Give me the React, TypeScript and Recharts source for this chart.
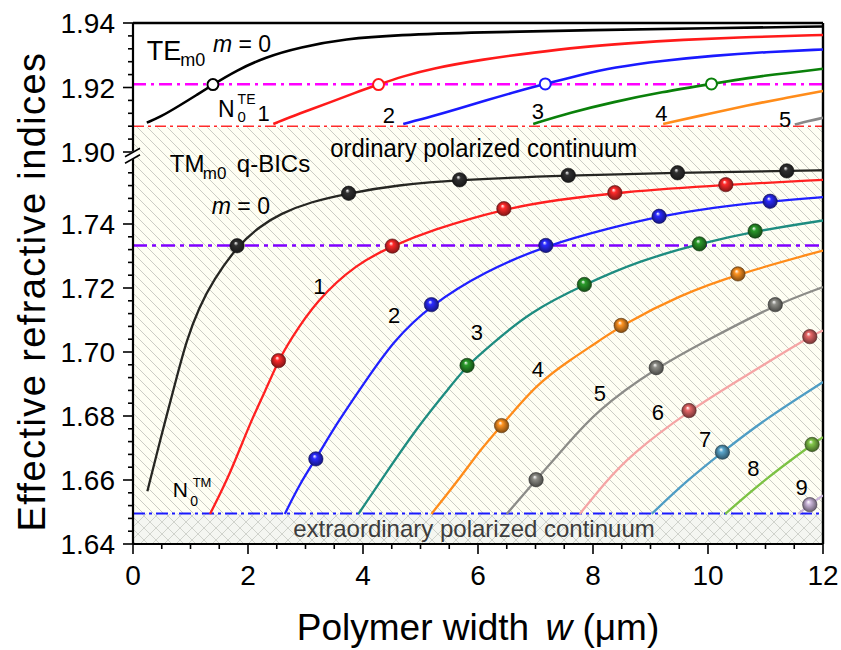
import React from 'react';
import {
  ComposedChart,
  Line,
  XAxis,
  YAxis,
  ReferenceLine,
  ReferenceArea,
  ReferenceDot,
  Label,
} from 'recharts';

const FONT = "'Liberation Sans', Arial, Helvetica, sans-serif";

// ---------- broken y axis (lower 1.64–1.76, upper 1.90–1.94) ----------
const LOW_MIN = 1.64;
const UP_MAX = 1.94;
const LOW_SCALE = 3200;
const UP_SCALE = 3225;
const PLOT_H = 521;
const SPLIT = 1.83;
const BREAK_V = 1.7615;
const t = (v: number) => (v < SPLIT ? (v - LOW_MIN) * LOW_SCALE : PLOT_H - (UP_MAX - v) * UP_SCALE);

// ---------- ticks ----------
const X_MAJOR = [0, 2, 4, 6, 8, 10, 12];
const X_MINOR = [0.5, 1, 1.5, 2.5, 3, 3.5, 4.5, 5, 5.5, 6.5, 7, 7.5, 8.5, 9, 9.5, 10.5, 11, 11.5];
const Y_MAJOR = [1.64, 1.66, 1.68, 1.7, 1.72, 1.74, 1.9, 1.92, 1.94];
const Y_MINOR = [
  1.644, 1.648, 1.652, 1.656, 1.664, 1.668, 1.672, 1.676, 1.684, 1.688, 1.692, 1.696,
  1.704, 1.708, 1.712, 1.716, 1.724, 1.728, 1.732, 1.736, 1.744, 1.748, 1.752, 1.756,
  1.904, 1.908, 1.912, 1.916, 1.924, 1.928, 1.932, 1.936,
];

// ---------- reference levels ----------
const N0_TE = 1.908;
const TE_CROSS = 1.921;
const TM_CROSS = 1.7333;
const N0_TM = 1.6495;

// ---------- TE modes (upper panel) ----------
const teW0 = [0.24, 0.47, 0.8, 1.1, 1.39, 1.8, 2.3, 2.9, 3.7, 4.6, 6.0, 8.0, 10.0, 12.0];
const teN0 = [1.9091, 1.9108, 1.9143, 1.9176, 1.9209, 1.9253, 1.9294, 1.9325, 1.9351, 1.9363, 1.9371, 1.9378, 1.9384, 1.9389];
const teW1 = [2.44, 2.9, 3.43, 3.85, 4.27, 4.7, 5.17, 6.1, 7.0, 7.77, 8.6, 9.51, 10.8, 12];
const teN1 = [1.9087, 1.912, 1.9154, 1.9183, 1.9209, 1.9235, 1.9258, 1.9288, 1.9309, 1.9325, 1.9337, 1.9348, 1.9357, 1.9363];
const teW2 = [4.7, 5.2, 5.7, 6.1, 6.7, 7.17, 7.8, 8.35, 9.2, 10.09, 11.0, 12];
const teN2 = [1.9087, 1.911, 1.9136, 1.9158, 1.9189, 1.9211, 1.924, 1.9262, 1.9283, 1.9299, 1.931, 1.9318];
const teW3 = [6.96, 7.6, 8.35, 9.2, 10.06, 10.96, 12];
const teN3 = [1.9087, 1.9122, 1.9155, 1.9186, 1.9211, 1.9237, 1.9258];
const teW4 = [9.22, 10.0, 10.67, 11.3, 12];
const teN4 = [1.9087, 1.9118, 1.9144, 1.9166, 1.9189];
const teW5 = [11.51, 11.75, 12];
const teN5 = [1.9085, 1.9096, 1.9106];
const teCrossW = [1.39, 4.27, 7.17, 10.06];
const teCrossN = [1.9209, 1.9209, 1.9211, 1.9211];

// ---------- TM modes (lower panel) ----------
const tmW0 = [0.25, 0.47, 0.76, 0.93, 1.15, 1.4, 1.81, 2.2, 2.56, 3.1, 3.75, 4.59, 5.68, 7.57, 9.47, 11.37, 12];
const tmN0 = [1.6565, 1.6723, 1.6921, 1.7036, 1.714, 1.7225, 1.733, 1.7392, 1.7432, 1.747, 1.7496, 1.7522, 1.7538, 1.7552, 1.756, 1.7566, 1.7568];
const tmW1 = [1.34, 1.69, 2.03, 2.3, 2.53, 2.73, 3.19, 3.89, 4.51, 5.17, 6.45, 7.4, 8.38, 10.31, 12];
const tmN1 = [1.6494, 1.6619, 1.6776, 1.6878, 1.6973, 1.7036, 1.7161, 1.7276, 1.7331, 1.738, 1.7448, 1.7476, 1.7498, 1.7523, 1.7538];
const tmW2 = [2.64, 2.9, 3.18, 3.54, 4.01, 4.53, 5.19, 6.1, 7.18, 8.35, 9.15, 10.09, 11.08, 12];
const tmN2 = [1.6494, 1.6588, 1.6666, 1.6776, 1.69, 1.7036, 1.7148, 1.725, 1.7333, 1.739, 1.7424, 1.7452, 1.7471, 1.7484];
const tmW3 = [3.92, 4.35, 4.99, 5.51, 5.81, 6.21, 6.9, 7.85, 8.82, 9.85, 10.82, 12];
const tmN3 = [1.6494, 1.6609, 1.6776, 1.689, 1.6958, 1.702, 1.7125, 1.7211, 1.7286, 1.7338, 1.7378, 1.7411];
const tmW4 = [5.19, 5.74, 6.03, 6.41, 7.02, 7.6, 8.12, 8.49, 9.51, 10.52, 12];
const tmN4 = [1.6494, 1.6619, 1.6692, 1.677, 1.69, 1.6975, 1.7036, 1.7083, 1.7178, 1.7244, 1.7317];
const tmW5 = [6.5, 7.01, 7.5, 8.06, 9.1, 9.98, 11.17, 12];
const tmN5 = [1.6494, 1.6601, 1.67, 1.6817, 1.6951, 1.7036, 1.7148, 1.7203];
const tmW6 = [7.77, 8.2, 8.64, 9.67, 10.67, 11.77, 12];
const tmN6 = [1.6494, 1.659, 1.6677, 1.6817, 1.6927, 1.7048, 1.7067];
const tmW7 = [9.02, 9.63, 10.25, 10.96, 12];
const tmN7 = [1.6494, 1.6598, 1.6687, 1.6786, 1.6906];
const tmW8 = [10.3, 10.96, 11.81, 12];
const tmN8 = [1.6494, 1.6598, 1.6711, 1.6734];
const tmW9 = [11.57, 11.77, 12];
const tmN9 = [1.6494, 1.6523, 1.6552];

// q-BIC markers
const mkW0 = [1.81, 3.75, 5.68, 7.57, 9.47, 11.37];
const mkN0 = [1.7332, 1.7496, 1.7538, 1.7552, 1.756, 1.7566];
const mkW1 = [2.53, 4.51, 6.45, 8.38, 10.31];
const mkN1 = [1.6973, 1.7331, 1.7448, 1.7498, 1.7523];
const mkW2 = [3.18, 5.19, 7.18, 9.15, 11.08];
const mkN2 = [1.6666, 1.7148, 1.7333, 1.7424, 1.7471];
const mkW3 = [5.81, 7.85, 9.85, 10.82];
const mkN3 = [1.6958, 1.7211, 1.7338, 1.7378];
const mkW4 = [6.41, 8.49, 10.52];
const mkN4 = [1.677, 1.7083, 1.7244];
const mkW5 = [7.01, 9.1, 11.17];
const mkN5 = [1.6601, 1.6951, 1.7148];
const mkW6 = [9.67, 11.77];
const mkN6 = [1.6817, 1.7048];
const mkW7 = [10.25];
const mkN7 = [1.6687];
const mkW8 = [11.81];
const mkN8 = [1.6711];
const mkW9 = [11.77];
const mkN9 = [1.6523];

// ---------- text labels ----------
const TE_NUM_TEXT = ['1', '2', '3', '4', '5'];
const TE_NUM_W = [2.27, 4.45, 7.04, 9.19, 11.34];
const TE_NUM_N = [1.9095, 1.9089, 1.9103, 1.9095, 1.9077];
const TM_NUM_TEXT = ['1', '2', '3', '4', '5', '6', '7', '8', '9'];
const TM_NUM_W = [3.24, 4.54, 5.98, 7.04, 8.12, 9.13, 9.95, 10.79, 11.63];
const TM_NUM_N = [1.7182, 1.709, 1.7036, 1.6923, 1.6848, 1.6786, 1.6702, 1.6614, 1.6552];
const ORD_TEXT = 'ordinary polarized continuum';
const EXT_TEXT = 'extraordinary polarized continuum';
const X_TITLE = 'Polymer width ';
const Y_TITLE = 'Effective refractive indices';

type Pt = { w: number; y: number };
const toPts = (ws: number[], ns: number[]): Pt[] => ws.map((w, i) => ({ w, y: t(ns[i]) }));

const shade = (hex: string, f: number) => {
  const n = parseInt(hex.slice(1), 16);
  const r = Math.round(((n >> 16) & 255) * f);
  const g = Math.round(((n >> 8) & 255) * f);
  const b = Math.round((n & 255) * f);
  return `rgb(${r},${g},${b})`;
};

const TE_SERIES = [
  { id: 'te0', w: teW0, n: teN0, color: '#000000' },
  { id: 'te1', w: teW1, n: teN1, color: '#ff1a1a' },
  { id: 'te2', w: teW2, n: teN2, color: '#1a1aff' },
  { id: 'te3', w: teW3, n: teN3, color: '#0a800a' },
  { id: 'te4', w: teW4, n: teN4, color: '#ff8c1a' },
  { id: 'te5', w: teW5, n: teN5, color: '#888888' },
];
const TE_CROSS_COLORS = ['#000000', '#ff1a1a', '#1a1aff', '#0a800a'];

const TM_SERIES = [
  { id: 'tm0', w: tmW0, n: tmN0, color: '#262622', mw: mkW0, mn: mkN0, mc: '#303030' },
  { id: 'tm1', w: tmW1, n: tmN1, color: '#ff2020', mw: mkW1, mn: mkN1, mc: '#ff2a2a' },
  { id: 'tm2', w: tmW2, n: tmN2, color: '#2020ff', mw: mkW2, mn: mkN2, mc: '#2a2aff' },
  { id: 'tm3', w: tmW3, n: tmN3, color: '#1e8c80', mw: mkW3, mn: mkN3, mc: '#2a9a2a' },
  { id: 'tm4', w: tmW4, n: tmN4, color: '#ff8c1a', mw: mkW4, mn: mkN4, mc: '#ff9422' },
  { id: 'tm5', w: tmW5, n: tmN5, color: '#8c8c88', mw: mkW5, mn: mkN5, mc: '#8e8e88' },
  { id: 'tm6', w: tmW6, n: tmN6, color: '#f5a5a5', mw: mkW6, mn: mkN6, mc: '#e86868' },
  { id: 'tm7', w: tmW7, n: tmN7, color: '#4f9dc4', mw: mkW7, mn: mkN7, mc: '#5aa6cc' },
  { id: 'tm8', w: tmW8, n: tmN8, color: '#7cc244', mw: mkW8, mn: mkN8, mc: '#82c64a' },
  { id: 'tm9', w: tmW9, n: tmN9, color: '#c9b4d9', mw: mkW9, mn: mkN9, mc: '#cdb9dc' },
];

// ---------- tick renderers ----------
const key = (d: number) => d.toFixed(1);
const yInfo = new Map<string, { kind: string; label?: string }>();
Y_MAJOR.forEach((v) => yInfo.set(key(t(v)), { kind: 'major', label: v.toFixed(2) }));
Y_MINOR.forEach((v) => yInfo.set(key(t(v)), { kind: 'minor' }));
yInfo.set(key(t(BREAK_V)), { kind: 'break' });
const Y_TICKS = [...Y_MAJOR, ...Y_MINOR, BREAK_V].map(t);
const X_TICKS = [...X_MAJOR, ...X_MINOR].sort((a, b) => a - b);

const YTick = (props: any) => {
  const { x, y, payload } = props;
  const info = yInfo.get(key(payload.value)) || { kind: 'minor' };
  if (info.kind === 'break') {
    return (
      <g>
        <polygon points={`${x - 3},${y + 6} ${x + 3},${y + 2} ${x + 3},${y - 6} ${x - 3},${y - 2}`} fill="#fff" />
        <line x1={x - 8} y1={y + 1.5} x2={x + 7} y2={y - 7} stroke="#000" strokeWidth={1.6} />
        <line x1={x - 8} y1={y + 8} x2={x + 7} y2={y - 0.5} stroke="#000" strokeWidth={1.6} />
      </g>
    );
  }
  const len = info.kind === 'major' ? 10 : 5;
  return (
    <g>
      <line x1={x} x2={x - len} y1={y} y2={y} stroke="#000" strokeWidth={1.6} />
      {info.kind === 'major' && (
        <text x={x - 18} y={y} dy={10} textAnchor="end" fontSize={28} fontFamily={FONT} fill="#000">
          {info.label}
        </text>
      )}
    </g>
  );
};

const XTick = (props: any) => {
  const { x, y, payload } = props;
  const v = payload.value;
  const major = X_MAJOR.includes(v);
  return (
    <g>
      <line x1={x} x2={x} y1={y} y2={y + (major ? 10 : 5)} stroke="#000" strokeWidth={1.6} />
      {major && (
        <text x={x} y={y + 41} textAnchor="middle" fontSize={28} fontFamily={FONT} fill="#000">
          {v}
        </text>
      )}
    </g>
  );
};

// ---------- annotation renderers ----------
const txt = (extra: any) => ({ fontFamily: FONT, fill: '#000', ...extra });

const teTitle = (p: any) => (
  <g>
    <text x={p.cx} y={p.cy} {...txt({ fontSize: 27 })}>TE</text>
    <text x={p.cx + 33.5} y={p.cy + 6} {...txt({ fontSize: 18 })}>m0</text>
  </g>
);
const mZero = (p: any) => (
  <text x={p.cx} y={p.cy} {...txt({ fontSize: 23 })}>
    <tspan fontStyle="italic">m</tspan> = 0
  </text>
);
const nTE = (p: any) => (
  <g>
    <text x={p.cx} y={p.cy} {...txt({ fontSize: 23 })}>N</text>
    <text x={p.cx + 19.5} y={p.cy + 5} {...txt({ fontSize: 15 })}>0</text>
    <text x={p.cx + 19.5} y={p.cy - 13.4} {...txt({ fontSize: 14 })}>TE</text>
  </g>
);
const nTM = (p: any) => (
  <g>
    <text x={p.cx} y={p.cy} {...txt({ fontSize: 21 })}>N</text>
    <text x={p.cx + 17.5} y={p.cy + 8.3} {...txt({ fontSize: 14 })}>0</text>
    <text x={p.cx + 20} y={p.cy - 10} {...txt({ fontSize: 13 })}>TM</text>
  </g>
);
const tmTitle = (p: any) => (
  <g>
    <text x={p.cx} y={p.cy} {...txt({ fontSize: 24 })}>TM</text>
    <text x={p.cx + 33} y={p.cy + 7} {...txt({ fontSize: 17 })}>m0</text>
    <text x={p.cx + 67} y={p.cy} {...txt({ fontSize: 24 })}>q-BICs</text>
  </g>
);
const ordText = (p: any) => (
  <text transform={`translate(${p.cx},${p.cy}) scale(0.92,1)`} x={0} y={0} textAnchor="middle" {...txt({ fontSize: 26 })}>
    {ORD_TEXT}
  </text>
);
const extText = (p: any) => (
  <text x={p.cx} y={p.cy} textAnchor="middle" {...txt({ fontSize: 24, fill: '#3c3c3c' })}>
    {EXT_TEXT}
  </text>
);
const numText = (s: string) => (p: any) => (
  <text x={p.cx} y={p.cy} textAnchor="middle" {...txt({ fontSize: 22 })}>
    {s}
  </text>
);

const ANN: { w: number; v: number; shape: (p: any) => any }[] = [
  { w: 0.24, v: 1.9284, shape: teTitle },
  { w: 1.39, v: 1.9309, shape: mZero },
  { w: 1.48, v: 1.9108, shape: nTE },
  { w: 6.1, v: 1.8986, shape: ordText },
  { w: 0.64, v: 1.7562, shape: tmTitle },
  { w: 1.37, v: 1.743, shape: mZero },
  { w: 0.69, v: 1.6546, shape: nTM },
  { w: 5.93, v: 1.6421, shape: extText },
  ...TE_NUM_TEXT.map((s, i) => ({ w: TE_NUM_W[i], v: TE_NUM_N[i], shape: numText(s) })),
  ...TM_NUM_TEXT.map((s, i) => ({ w: TM_NUM_W[i], v: TM_NUM_N[i], shape: numText(s) })),
];

const sphereDot = (gid: string, edge: string) => (p: any) =>
  p.cx == null ? (
    <g key={`${gid}-e-${p.index}`} />
  ) : (
    <circle key={`${gid}-${p.index}`} cx={p.cx} cy={p.cy} r={7.2} fill={`url(#${gid})`} stroke={edge} strokeWidth={0.6} />
  );

const openDot = (color: string, id: string) => (p: any) =>
  p.cx == null ? (
    <g key={`${id}-e`} />
  ) : (
    <circle key={id} cx={p.cx} cy={p.cy} r={5.5} fill="#ffffff" stroke={color} strokeWidth={2} />
  );

export default function App() {
  return (
    <div style={{ position: 'absolute', left: 0, top: 0, width: 841, height: 650, background: '#fff' }}>
      <ComposedChart width={841} height={650} margin={{ top: 23, right: 18, bottom: 6, left: 0 }}>
        <defs>
          <pattern id="hatch" patternUnits="userSpaceOnUse" width="10" height="10">
            <rect x="0" y="0" width="10" height="10" fill="#fefef3" />
            <path d="M-1,-1 L11,11 M-1,9 L1,11 M9,-1 L11,1" stroke="#c6c6be" strokeWidth="0.9" fill="none" />
          </pattern>
          <pattern id="cross" patternUnits="userSpaceOnUse" width="12" height="12">
            <rect x="0" y="0" width="12" height="12" fill="#f4f6f1" />
            <line x1="0" y1="0" x2="12" y2="12" stroke="#d0d3cc" strokeWidth="1" />
            <line x1="0" y1="12" x2="12" y2="0" stroke="#d0d3cc" strokeWidth="1" />
          </pattern>
          {TM_SERIES.map((s) => (
            <radialGradient key={s.id} id={`g-${s.id}`} cx="50%" cy="50%" r="55%" fx="40%" fy="30%">
              <stop offset="0%" stopColor="#ffffff" />
              <stop offset="28%" stopColor={s.mc} />
              <stop offset="100%" stopColor={shade(s.mc, 0.45)} />
            </radialGradient>
          ))}
        </defs>

        <XAxis
          dataKey="w"
          type="number"
          domain={[0, 12]}
          ticks={X_TICKS}
          interval={0}
          allowDataOverflow
          height={100}
          tickSize={0}
          tickMargin={0}
          tick={<XTick />}
          axisLine={{ stroke: '#000', strokeWidth: 2.2 }}
          tickLine={false}
        >
          <Label
            content={(p: any) => {
              const vb = p.viewBox || { x: 133, y: 544, width: 690, height: 100 };
              return (
                <text x={vb.x + vb.width / 2} y={vb.y + 96} textAnchor="middle" fontSize={37} fontFamily={FONT} fill="#000">
                  {X_TITLE}
                  <tspan fontStyle="italic" dx={6}>w</tspan>
                  <tspan> (μm)</tspan>
                </text>
              );
            }}
          />
        </XAxis>
        <YAxis
          dataKey="y"
          type="number"
          domain={[0, PLOT_H]}
          ticks={Y_TICKS}
          interval={0}
          allowDataOverflow
          width={133}
          tickSize={0}
          tickMargin={0}
          tick={<YTick />}
          axisLine={{ stroke: '#000', strokeWidth: 2.2 }}
          tickLine={false}
        >
          <Label
            content={(p: any) => {
              const vb = p.viewBox || { x: 0, y: 23, width: 133, height: 521 };
              const cy = vb.y + vb.height / 2 + 8;
              return (
                <text
                  x={45}
                  y={cy}
                  transform={`rotate(-90, 45, ${cy})`}
                  textAnchor="middle"
                  fontSize={38}
                  letterSpacing={1.4}
                  fontFamily={FONT}
                  fill="#000"
                >
                  {Y_TITLE}
                </text>
              );
            }}
          />
        </YAxis>

        <ReferenceArea x1={0} x2={12} y1={t(N0_TM)} y2={t(N0_TE) - 1} fill="url(#hatch)" fillOpacity={1} stroke="none" />
        <ReferenceArea x1={0} x2={12} y1={0} y2={t(N0_TM)} fill="url(#cross)" fillOpacity={1} stroke="none" />

        <ReferenceLine y={t(N0_TE)} stroke="#ff2a2a" strokeWidth={1.6} strokeDasharray="11 4 3 4" />
        <ReferenceLine y={t(TE_CROSS)} stroke="#ff00ff" strokeWidth={2.5} strokeDasharray="13 5 3 5" />
        <ReferenceLine y={t(TM_CROSS)} stroke="#7f00ff" strokeWidth={2.6} strokeDasharray="14 5 4 5" />
        <ReferenceLine y={t(N0_TM)} stroke="#1a1aff" strokeWidth={2} strokeDasharray="12 4 3 4" />
        <ReferenceLine y={PLOT_H} stroke="#000" strokeWidth={2.4} />
        <ReferenceLine x={12} stroke="#000" strokeWidth={2.4} />

        {TE_SERIES.map((s) => (
          <Line
            key={s.id}
            data={toPts(s.w, s.n)}
            dataKey="y"
            type="basis"
            stroke={s.color}
            strokeWidth={2.6}
            dot={false}
            activeDot={false}
            isAnimationActive={false}
          />
        ))}
        {TM_SERIES.map((s) => (
          <Line
            key={s.id}
            data={toPts(s.w, s.n)}
            dataKey="y"
            type="basis"
            stroke={s.color}
            strokeWidth={2.3}
            dot={false}
            activeDot={false}
            isAnimationActive={false}
          />
        ))}
        {TM_SERIES.map((s) => (
          <Line
            key={`m-${s.id}`}
            data={toPts(s.mw, s.mn)}
            dataKey="y"
            stroke="none"
            dot={sphereDot(`g-${s.id}`, shade(s.mc, 0.35))}
            activeDot={false}
            isAnimationActive={false}
          />
        ))}
        {teCrossW.map((w, i) => (
          <Line
            key={`tc-${i}`}
            data={toPts([w], [teCrossN[i]])}
            dataKey="y"
            stroke="none"
            dot={openDot(TE_CROSS_COLORS[i], `tcd-${i}`)}
            activeDot={false}
            isAnimationActive={false}
          />
        ))}

        {ANN.map((a, i) => (
          <ReferenceDot key={`ann-${i}`} x={a.w} y={t(a.v)} r={0} ifOverflow="visible" shape={a.shape} />
        ))}
      </ComposedChart>
    </div>
  );
}
